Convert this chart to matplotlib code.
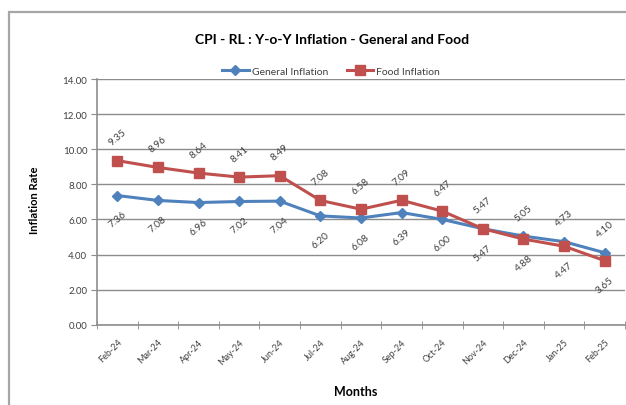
import matplotlib
matplotlib.use("Agg")
import matplotlib.pyplot as plt
from matplotlib.patches import Rectangle

months = ["Feb-24", "Mar-24", "Apr-24", "May-24", "Jun-24", "Jul-24", "Aug-24",
          "Sep-24", "Oct-24", "Nov-24", "Dec-24", "Jan-25", "Feb-25"]
general = [7.36, 7.08, 6.96, 7.02, 7.04, 6.20, 6.08, 6.39, 6.00, 5.47, 5.05, 4.73, 4.10]
food = [9.35, 8.96, 8.64, 8.41, 8.49, 7.08, 6.58, 7.09, 6.47, 5.47, 4.88, 4.47, 3.65]
yticks = [0, 2, 4, 6, 8, 10, 12, 14]

plt.rcParams['font.family'] = ['Lato', 'DejaVu Sans']

blue = "#4F81BD"
red = "#C0504D"
grid = "#8c8c8c"
txt = "#404040"

fig = plt.figure(figsize=(6.26, 4.06), dpi=100)
fig.set_facecolor("white")
fig.patches.append(Rectangle((9 / 626, -0.2), 1.2, 1.2 - 13 / 406, transform=fig.transFigure,
                             fill=False, edgecolor="#a6a6a6", lw=1.6))

ax = fig.add_axes([97 / 626, 1 - 325.7 / 406, 528 / 626, 245.7 / 406])
x = list(range(len(months)))
ax.plot(x, general, color=blue, lw=2.2, marker="D", ms=5, label="General Inflation", zorder=3)
ax.plot(x, food, color=red, lw=2.2, marker="s", ms=7, label="Food Inflation", zorder=3)

# data labels: upper series above, lower series below (ties: food above)
for i in x:
    g, f = general[i], food[i]
    g_up = g > f
    for val, up in ((g, g_up), (f, not g_up)):
        dy = 17 if up else -17
        ax.annotate("%.2f" % val, (i, val), xytext=(0, dy), textcoords="offset points",
                    ha="center", va="center", rotation=40, fontsize=7.3, color=txt)

ax.set_xlim(-0.5, len(months) - 0.5)
ax.set_ylim(0, 14)
ax.set_yticks(yticks)
ax.set_yticklabels(["%.2f" % v for v in yticks], fontsize=7, color=txt)
ax.set_xticks(x)
ax.set_xticklabels(months, rotation=45, ha="right", rotation_mode="anchor", fontsize=6.5, color=txt)
ax.set_xticks([i - 0.5 for i in range(len(months) + 1)], minor=True)
ax.tick_params(axis="x", which="major", length=0, pad=9)
ax.tick_params(axis="x", which="minor", length=6, direction="inout", color=grid)
ax.tick_params(axis="y", length=4, color=grid, pad=3)
ax.grid(axis="y", color=grid, lw=1)
ax.set_axisbelow(True)
for s in ["top", "right"]:
    ax.spines[s].set_visible(False)
for s in ["left", "bottom"]:
    ax.spines[s].set_color(grid)
    ax.spines[s].set_linewidth(1.2)

fig.text(332 / 626, 1 - 40 / 406, "CPI - RL : Y-o-Y Inflation - General and Food",
         ha="center", va="center", fontsize=10, fontweight="bold", color="black")
fig.text(35 / 626, 1 - 200 / 406, "Inflation Rate", rotation=90, ha="center", va="center",
         fontsize=8, fontweight="bold")
fig.text(356 / 626, 1 - 392 / 406, "Months", ha="center", va="center", fontsize=9, fontweight="bold")
fig.legend(loc="center", bbox_to_anchor=(331 / 626, 1 - 72 / 406), ncol=2, frameon=False,
           fontsize=7.5, handlelength=2.5, columnspacing=1.8, handletextpad=0.3, labelcolor=txt)

fig.savefig("out.png", dpi=100)
